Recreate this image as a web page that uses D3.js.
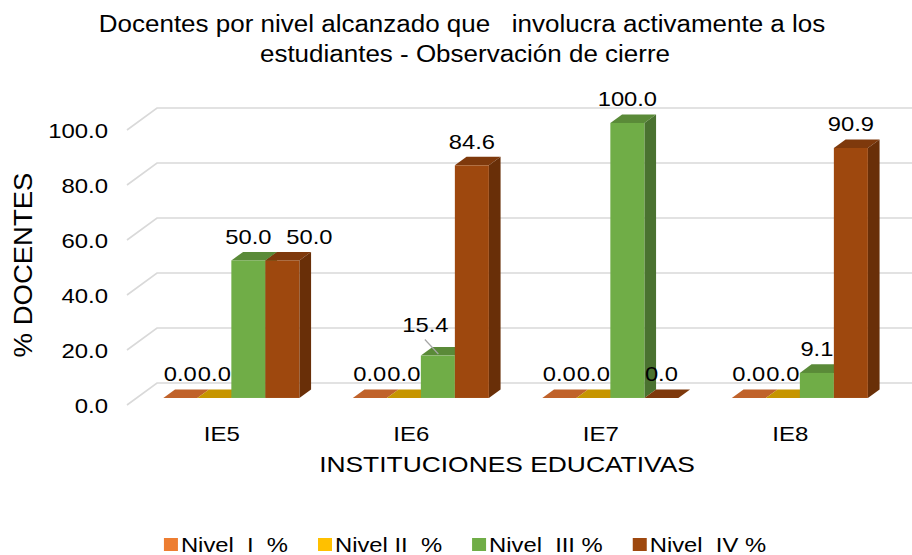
<!DOCTYPE html>
<html>
<head>
<meta charset="utf-8">
<script src="https://cdn.jsdelivr.net/npm/d3@7"></script>
<style>
  body { margin: 0; background: #fff; }
  svg text { font-family: "Liberation Sans", Arial, sans-serif; fill: #000; white-space: pre; }
</style>
</head>
<body>
<div id="viz"></div>
<script>
// data
var categories = ["IE5", "IE6", "IE7", "IE8"];
var seriesNames = ["Nivel  I  %", "Nivel II  %", "Nivel  III %", "Nivel  IV %"];
var nivel1 = [0.0, 0.0, 0.0, 0.0];
var nivel2 = [0.0, 0.0, 0.0, 0.0];
var nivel3 = [50.0, 15.4, 100.0, 9.1];
var nivel4 = [50.0, 84.6, 0.0, 90.9];
var yTicks = [0, 20, 40, 60, 80, 100];

var frontColors = ["#ED7D31", "#FFC000", "#70AD47", "#9E480E"];
var topColors   = ["#C0622A", "#C69500", "#5A8A38", "#7E390C"];
var sideColors  = ["#A9541F", "#A87F00", "#4A7230", "#692F08"];

var width = 912, height = 555;
var DX = 30, DY = 22;          // depth of the 3d box
var T0 = 0.32, T1 = 0.71;      // bars sit between these depth fractions

var svg = d3.select("#viz").append("svg")
    .attr("width", width).attr("height", height);

var x0 = d3.scaleBand().domain(categories).range([127, 885])
    .paddingInner(0.282).paddingOuter(0.141);
var x1 = d3.scaleBand().domain(d3.range(4)).range([0, x0.bandwidth()]);
var y = d3.scaleLinear().domain([0, 100]).range([405, 130]);
var fmt = d3.format(".1f");

function txt(g, x, yy, s, size, anchor, sx) {
  return g.append("text")
    .attr("transform", "translate(" + x + "," + yy + ") scale(" + sx + ",1)")
    .attr("text-anchor", anchor)
    .attr("xml:space", "preserve")
    .style("font-size", size + "px")
    .text(s);
}

// gridlines on the back wall + left side
svg.append("g").selectAll("path").data(yTicks).enter().append("path")
    .attr("d", function(d) {
      return "M127," + y(d) + "L" + (127 + DX) + "," + (y(d) - DY) + "L" + (width + 5) + "," + (y(d) - DY);
    })
    .attr("fill", "none").attr("stroke", "#D9D9D9").attr("stroke-width", 1.6);

// tick labels
var ticks = svg.append("g");
yTicks.forEach(function(t) { txt(ticks, 108, y(t) + 7.5, fmt(t), 21, "end", 1.14); });

// bars
var allSeries = [nivel1, nivel2, nivel3, nivel4];
var bars = svg.append("g");
categories.forEach(function(c, ci) {
  allSeries.forEach(function(vals, si) {
    var v = vals[ci];
    var w = x1.bandwidth();
    var xl = x0(c) + x1(si) + T0 * DX;
    var yb = y(0) - T0 * DY, yt = y(v) - T0 * DY;
    var ddx = (T1 - T0) * DX, ddy = (T1 - T0) * DY;
    bars.append("path")
        .attr("d", "M" + xl + "," + yt + "L" + (xl + w) + "," + yt + "L" + (xl + w + ddx) + "," + (yt - ddy) +
              "L" + (xl + ddx) + "," + (yt - ddy) + "Z")
        .attr("fill", topColors[si]);
    if (v > 0) {
      bars.append("path")
          .attr("d", "M" + (xl + w) + "," + yt + "L" + (xl + w + ddx) + "," + (yt - ddy) +
                "L" + (xl + w + ddx) + "," + (yb - ddy) + "L" + (xl + w) + "," + yb + "Z")
          .attr("fill", sideColors[si]);
      bars.append("rect")
          .attr("x", xl).attr("y", yt).attr("width", w).attr("height", yb - yt)
          .attr("fill", frontColors[si]);
    }
  });
});

// data labels (two were nudged in the original to avoid overlap)
var nudge = { "0-3": [27, 0], "1-2": [-12.5, -7.5] };
var labels = svg.append("g");
categories.forEach(function(c, ci) {
  allSeries.forEach(function(vals, si) {
    var v = vals[ci];
    var cx = x0(c) + x1(si) + T0 * DX + x1.bandwidth() / 2;
    var by = y(v) - T1 * DY - 8;
    var n = nudge[ci + "-" + si] || [0, 0];
    if (n[1] !== 0) {
      labels.append("line")
          .attr("x1", cx + n[0] - 0.5).attr("y1", by + n[1] + 8)
          .attr("x2", cx + 0.5).attr("y2", by + 15)
          .attr("stroke", "#A6A6A6").attr("stroke-width", 1.2);
    }
    txt(labels, cx + n[0], by + n[1], fmt(v), 21, "middle", 1.13);
  });
});

// category labels
var cats = svg.append("g");
categories.forEach(function(c) { txt(cats, x0(c) + x0.bandwidth() / 2, 441, c, 20, "middle", 1.2); });

// axis titles
txt(svg, 507, 472, "INSTITUCIONES EDUCATIVAS", 22, "middle", 1.2);
svg.append("text")
    .attr("transform", "translate(32,265) rotate(-90) scale(1.1,1)")
    .attr("text-anchor", "middle")
    .style("font-size", "25px")
    .text("% DOCENTES");

// title
txt(svg, 462, 32, "Docentes por nivel alcanzado que   involucra activamente a los", 23, "middle", 1.13);
txt(svg, 465, 62, "estudiantes - Observación de cierre", 23, "middle", 1.13);

// legend
var legend = svg.append("g");
var lx = 0;
seriesNames.forEach(function(s, i) {
  var g = legend.append("g").attr("transform", "translate(" + lx + ",0)");
  g.append("rect").attr("x", 0).attr("y", 538).attr("width", 14).attr("height", 13).attr("fill", frontColors[i]);
  var t = txt(g, 17, 551.5, s, 20, "start", 1.19);
  lx += 17 + t.node().getComputedTextLength() * 1.19 + 30;
});
lx -= 30;
legend.attr("transform", "translate(" + (465 - lx / 2) + ",0)");
</script>
</body>
</html>
